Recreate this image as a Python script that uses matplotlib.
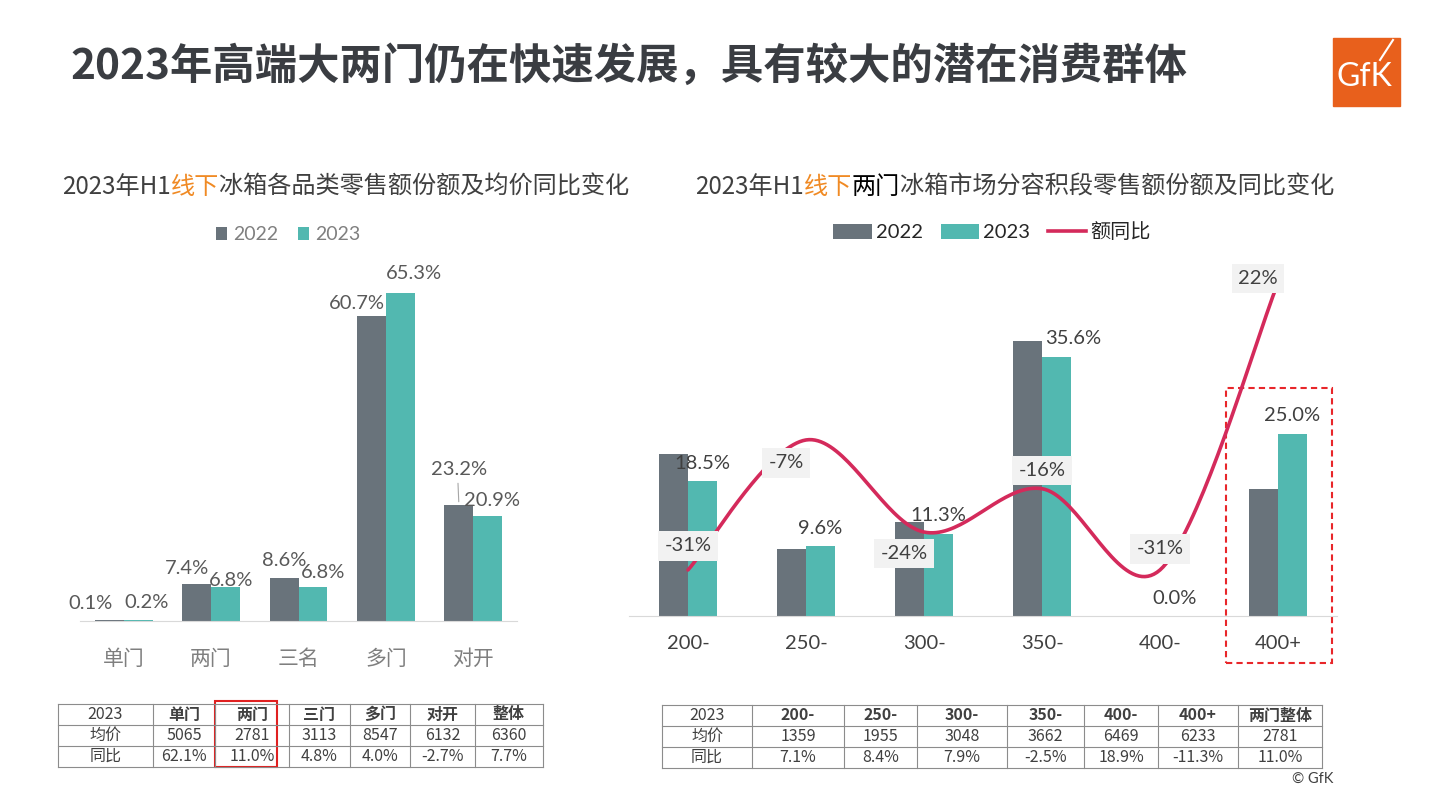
import numpy as np
import matplotlib.pyplot as plt
from matplotlib.patches import Rectangle, Patch
from matplotlib.lines import Line2D

plt.rcParams['font.family'] = ['Lato', 'Noto Sans CJK SC', 'DejaVu Sans']

# --- data ---
door_types = ['单门', '两门', '三名', '多门', '对开']
door_share_2022 = [0.1, 7.4, 8.6, 60.7, 23.2]
door_share_2023 = [0.2, 6.8, 6.8, 65.3, 20.9]

vol_bands = ['200-', '250-', '300-', '350-', '400-', '400+']
vol_share_2022 = [22.3, 9.2, 12.9, 37.8, 0.0, 17.4]
vol_share_2023 = [18.5, 9.6, 11.3, 35.6, 0.0, 25.0]
vol_sales_yoy = [-31, -7, -24, -16, -31, 22]

door_tbl_head = ['2023', '单门', '两门', '三门', '多门', '对开', '整体']
door_tbl_price = ['均价', '5065', '2781', '3113', '8547', '6132', '6360']
door_tbl_yoy = ['同比', '62.1%', '11.0%', '4.8%', '4.0%', '-2.7%', '7.7%']

vol_tbl_head = ['2023', '200-', '250-', '300-', '350-', '400-', '400+', '两门整体']
vol_tbl_price = ['均价', '1359', '1955', '3048', '3662', '6469', '6233', '2781']
vol_tbl_yoy = ['同比', '7.1%', '8.4%', '7.9%', '-2.5%', '18.9%', '-11.3%', '11.0%']

# --- style ---
c22 = '#69737b'
c23 = '#52b8b0'
c_line = '#d42a5b'
c_text = '#404040'
c_orange = '#f08a24'
W, H = 1441, 810


def smooth(xs, ys, n=40):
    # Bezier smoothing like Excel's "smoothed line"
    pts = np.column_stack([xs, ys]).astype(float)
    P = np.vstack([pts[0], pts, pts[-1]])
    out = []
    t = np.linspace(0, 1, n)[:, None]
    for i in range(len(pts) - 1):
        p0, p1, p2, p3 = P[i], P[i + 1], P[i + 2], P[i + 3]
        c1 = p1 + (p2 - p0) / 6
        c2 = p2 - (p3 - p1) / 6
        seg = (1 - t) ** 3 * p1 + 3 * (1 - t) ** 2 * t * c1 + 3 * (1 - t) * t ** 2 * c2 + t ** 3 * p2
        out.append(seg if i == 0 else seg[1:])
    return np.vstack(out)


fig = plt.figure(figsize=(W / 100, H / 100), dpi=100)

# overlay in pixel coords for titles, tables, logo
ov = fig.add_axes([0, 0, 1, 1], zorder=5)
ov.set_xlim(0, W)
ov.set_ylim(H, 0)
ov.axis('off')
ov.patch.set_alpha(0)

ov.text(70, 67, '2023年高端大两门仍在快速发展，具有较大的潜在消费群体', fontsize=30.5,
        weight='bold', color='#3a3d42', va='center', family=['Noto Sans CJK SC'])


def multi_text(x, y, parts, size=17.4):
    t = ov.text(x, y, parts[0][0], color=parts[0][1], fontsize=size, va='center',
                family=['Noto Sans CJK SC'])
    for s, c in parts[1:]:
        t = ov.annotate(s, xy=(1, 0), xycoords=t, va='bottom', ha='left', color=c,
                        fontsize=size, family=['Noto Sans CJK SC'])


multi_text(62, 187, [('2023年H1', c_text), ('线下', c_orange),
                     ('冰箱各品类零售额份额及均价同比变化', c_text)])
multi_text(695, 187, [('2023年H1', c_text), ('线下', c_orange), ('两门', '#000000'),
                      ('冰箱市场分容积段零售额份额及同比变化', c_text)])

# logo
ov.add_patch(Rectangle((1333, 38), 67, 68, color='#e8601c'))
ov.text(1364, 77, 'GfK', color='white', fontsize=23, ha='center', va='center', family=['Lato'])
ov.plot([1380, 1393], [60, 40], color='white', lw=1.5)
ov.text(1333, 779, '© GfK', ha='right', va='center', fontsize=10.5, color=c_text)

# --- left chart ---
ax1 = fig.add_axes([80 / W, 1 - 621 / H, 437 / W, 356 / H])
x1 = np.arange(len(door_types))
bw1 = 0.33
ax1.bar(x1 - bw1 / 2, door_share_2022, bw1, color=c22)
ax1.bar(x1 + bw1 / 2, door_share_2023, bw1, color=c23)
ax1.set_xlim(-0.5, len(door_types) - 0.5)
ax1.set_ylim(0, 70.9)
ax1.set_yticks([])
ax1.set_xticks(x1)
ax1.set_xticklabels(door_types)
ax1.tick_params(axis='x', length=0, pad=20, labelsize=15, labelcolor='#7f7f7f')
for s in ['top', 'right', 'left']:
    ax1.spines[s].set_visible(False)
ax1.spines['bottom'].set_color('#d9d9d9')

off22 = [(-19, 17), (-10, 15), (0, 17), (-15, 13), (0, 35)]
off23 = [(8, 17), (6, 6), (10, 14), (14, 20), (4, 16)]
for i in range(len(door_types)):
    ax1.annotate(f'{door_share_2022[i]:.1f}%', xy=(x1[i] - bw1 / 2, door_share_2022[i]),
                 xytext=off22[i], textcoords='offset pixels', ha='center', va='center',
                 fontsize=14.5, color='#595959')
    ax1.annotate(f'{door_share_2023[i]:.1f}%', xy=(x1[i] + bw1 / 2, door_share_2023[i]),
                 xytext=off23[i], textcoords='offset pixels', ha='center', va='center',
                 fontsize=14.5, color='#595959')
# leader line for 对开 2022
ax1.annotate('', xy=(x1[4] - bw1 / 2, door_share_2022[4]), xytext=(-1, 24),
             textcoords='offset pixels', arrowprops=dict(arrowstyle='-', color='#a6a6a6', lw=0.8))

fig.legend(handles=[Patch(fc=c22), Patch(fc=c23)], labels=['2022', '2023'],
           loc='center', bbox_to_anchor=(288 / W, 1 - 235 / H), ncol=2, frameon=False,
           handlelength=0.6, handleheight=0.6, handletextpad=0.3, columnspacing=1.0,
           fontsize=14, labelcolor='#808080')

# --- right chart ---
ax2 = fig.add_axes([629 / W, 1 - 616 / H, 708 / W, 351 / H])
x2 = np.arange(len(vol_bands))
bw2 = 0.245
ax2.bar(x2 - bw2 / 2, vol_share_2022, bw2, color=c22)
ax2.bar(x2 + bw2 / 2, vol_share_2023, bw2, color=c23)
ax2.set_xlim(-0.5, len(vol_bands) - 0.5)
ax2.set_ylim(0, 48.2)
ax2.set_yticks([])
ax2.set_xticks(x2)
ax2.set_xticklabels(vol_bands)
ax2.tick_params(axis='x', length=0, pad=14, labelsize=14.5, labelcolor=c_text)
for s in ['top', 'right', 'left']:
    ax2.spines[s].set_visible(False)
ax2.spines['bottom'].set_color('#d9d9d9')

ax2b = ax2.twinx()
ax2b.set_ylim(-39.5, 25.3)
ax2b.axis('off')
curve = smooth(x2, vol_sales_yoy)
ax2b.plot(curve[:, 0], curve[:, 1], color=c_line, lw=2.6, solid_capstyle='round')

bar_dx = [0, 0, 0, 17, 0, 0]
for i in range(len(vol_bands)):
    ax2b.annotate(f'{vol_share_2023[i]:.1f}%', xy=(x2[i] + bw2 / 2, vol_share_2023[i]),
                  xycoords=ax2.transData, xytext=(bar_dx[i], 18), textcoords='offset pixels',
                  ha='center', va='center', fontsize=14.5, color=c_text, zorder=3)

line_off = [(0, 24), (-20, -23), (-20, -21), (0, 18), (0, 21), (-20, 4)]
for i in range(len(vol_bands)):
    ax2b.annotate(f'{vol_sales_yoy[i]}%', xy=(x2[i], vol_sales_yoy[i]), xytext=line_off[i],
                  textcoords='offset pixels', ha='center', va='center', fontsize=14.5,
                  color=c_text, zorder=4,
                  bbox=dict(boxstyle='square,pad=0.3', fc='#f2f2f2', ec='none'))

# highlight 400+
k = vol_bands.index('400+')
ax2.add_patch(Rectangle((k - 0.44, -6.5), 0.9, 37.8, fill=False, ec='#e8262a', lw=1.5,
                        ls=(0, (3, 2)), clip_on=False))

fig.legend(handles=[Patch(fc=c22), Patch(fc=c23), Line2D([], [], color=c_line, lw=2.6)],
           labels=['2022', '2023', '额同比'], loc='center', bbox_to_anchor=(992 / W, 1 - 232 / H),
           ncol=3, frameon=False, handlelength=1.9, handleheight=0.8, handletextpad=0.2,
           columnspacing=0.9, fontsize=14.5, labelcolor='#262626')


# --- tables ---
def draw_table(xb, yb, rows):
    for x in xb:
        ov.plot([x, x], [yb[0], yb[-1]], color='#8c8c8c', lw=0.8)
    for y in yb:
        ov.plot([xb[0], xb[-1]], [y, y], color='#8c8c8c', lw=0.8)
    for r, row in enumerate(rows):
        for c, val in enumerate(row):
            xc = (xb[c] + xb[c + 1]) / 2
            yc = (yb[r] + yb[r + 1]) / 2
            wt = 'bold' if (r == 0 and c > 0) else 'normal'
            ov.text(xc, yc, val, ha='center', va='center', fontsize=11.5, weight=wt,
                    color=c_text, family=['Noto Sans CJK SC'])


draw_table([58, 153, 215, 289, 350, 410, 475, 543], [704, 725, 746, 767],
           [door_tbl_head, door_tbl_price, door_tbl_yoy])
ov.add_patch(Rectangle((215, 701), 62, 66, fill=False, ec='#e02020', lw=1.5))

draw_table([662, 752, 844, 917, 1007, 1084, 1158, 1238, 1322], [705, 726, 747, 768],
           [vol_tbl_head, vol_tbl_price, vol_tbl_yoy])

fig.savefig('out.png', dpi=100)
